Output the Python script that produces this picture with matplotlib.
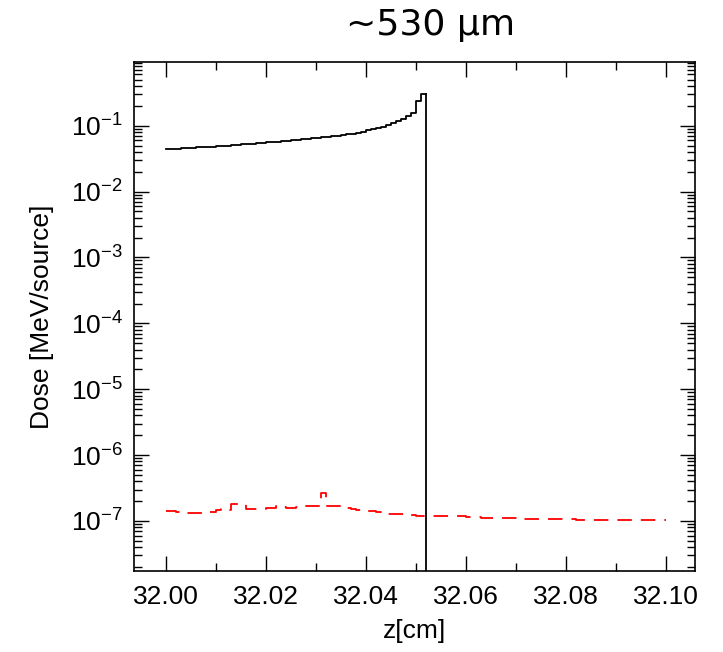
import numpy as np
import matplotlib
matplotlib.use('Agg')
import matplotlib.pyplot as plt
from matplotlib.ticker import LogLocator, MultipleLocator, NullFormatter

plt.rcParams['font.family'] = ['Liberation Sans', 'DejaVu Sans']
plt.rcParams['mathtext.fontset'] = 'custom'
plt.rcParams['mathtext.rm'] = 'Liberation Sans'
plt.rcParams['mathtext.it'] = 'Liberation Sans:italic'

# bin edges in z [cm], 0.001 cm wide
z_start = 32.000
bin_width = 0.001

# primary dose (black), 52 bins up to the end of range
dose_primary = [
    0.0443, 0.0446, 0.0450, 0.0454, 0.0458, 0.0462, 0.0467, 0.0472, 0.0477, 0.0482,
    0.0488, 0.0494, 0.0500, 0.0507, 0.0513, 0.0520, 0.0527, 0.0534, 0.0541, 0.0549,
    0.0557, 0.0565, 0.0574, 0.0583, 0.0592, 0.0601, 0.0610, 0.0620, 0.0630, 0.0641,
    0.0652, 0.0664, 0.0676, 0.0689, 0.0702, 0.0716, 0.0735, 0.0758, 0.0785, 0.0815,
    0.0850, 0.0885, 0.0925, 0.0970, 0.1030, 0.1100, 0.1180, 0.1280, 0.1400, 0.1580,
    0.2350, 0.3000,
]

# secondary dose (red dashed), 100 bins over 32.00-32.10, in units of 1e-7
dose_secondary = [
    1.43, 1.43, 1.38, 1.33, 1.31, 1.30, 1.33, 1.34, 1.36, 1.35,
    1.45, 1.54, 1.48, 1.81, 1.80, 1.78, 1.52, 1.51, 1.50, 1.51,
    1.55, 1.60, 1.66, 1.64, 1.56, 1.58, 1.64, 1.68, 1.68, 1.69,
    1.70, 2.63, 1.70, 1.68, 1.66, 1.62, 1.55, 1.51, 1.48, 1.46,
    1.44, 1.42, 1.38, 1.33, 1.29, 1.27, 1.26, 1.26, 1.25, 1.23,
    1.21, 1.20, 1.20, 1.19, 1.19, 1.19, 1.19, 1.18, 1.18, 1.17,
    1.16, 1.15, 1.13, 1.12, 1.12, 1.11, 1.11, 1.11, 1.10, 1.10,
    1.10, 1.09, 1.09, 1.09, 1.08, 1.08, 1.08, 1.07, 1.07, 1.07,
    1.06, 1.06, 1.05, 1.05, 1.05, 1.05, 1.04, 1.04, 1.04, 1.04,
    1.04, 1.03, 1.03, 1.03, 1.03, 1.03, 1.02, 1.02, 1.02, 1.02,
]
dose_secondary = [v * 1e-7 for v in dose_secondary]

x_ticks = [32.00, 32.02, 32.04, 32.06, 32.08, 32.10]
title = '~530 µm'

fig = plt.figure(figsize=(7.23, 6.52), dpi=100)
ax = fig.add_axes([0.1853, 0.1242, 0.7760, 0.7807])

edges_p = z_start + bin_width * np.arange(len(dose_primary) + 1)
yp = list(dose_primary) + [dose_primary[-1]]
ax.step(edges_p, yp, where='post', color='black', lw=1.3)
ax.plot([edges_p[-1], edges_p[-1]], [dose_primary[-1], 1e-12], color='black', lw=1.3)

edges_s = z_start + bin_width * np.arange(len(dose_secondary) + 1)
ys = list(dose_secondary) + [dose_secondary[-1]]
ax.step(edges_s, ys, where='post', color='red', lw=1.3, linestyle=(0, (8, 5)))

ax.set_yscale('log')
ax.set_xlim(31.9936, 32.1058)
ax.set_ylim(1.74e-8, 0.926)

ax.set_xticks(x_ticks)
ax.set_xticklabels(['%.2f' % t for t in x_ticks])
ax.xaxis.set_minor_locator(MultipleLocator(0.01))
ax.yaxis.set_major_locator(LogLocator(base=10, numticks=20))
ax.yaxis.set_minor_locator(LogLocator(base=10, subs=np.arange(2, 10), numticks=20))
ax.yaxis.set_minor_formatter(NullFormatter())

ax.tick_params(which='both', direction='in', top=True, right=True, width=1.0,
               labelsize=19)
ax.tick_params(which='major', length=11)
ax.tick_params(which='minor', length=6)
ax.tick_params(axis='x', which='major', pad=10)
ax.tick_params(axis='y', which='major', pad=8)
for s in ax.spines.values():
    s.set_linewidth(1.2)

ax.set_xlabel('z[cm]', fontsize=19, labelpad=7)
ax.set_ylabel('Dose [MeV/source]', fontsize=19, labelpad=12)

fig.text(0.596, 0.962, title, ha='center', va='center', fontsize=26,
         family=['DejaVu Sans'])

fig.savefig('out.png', dpi=100)
